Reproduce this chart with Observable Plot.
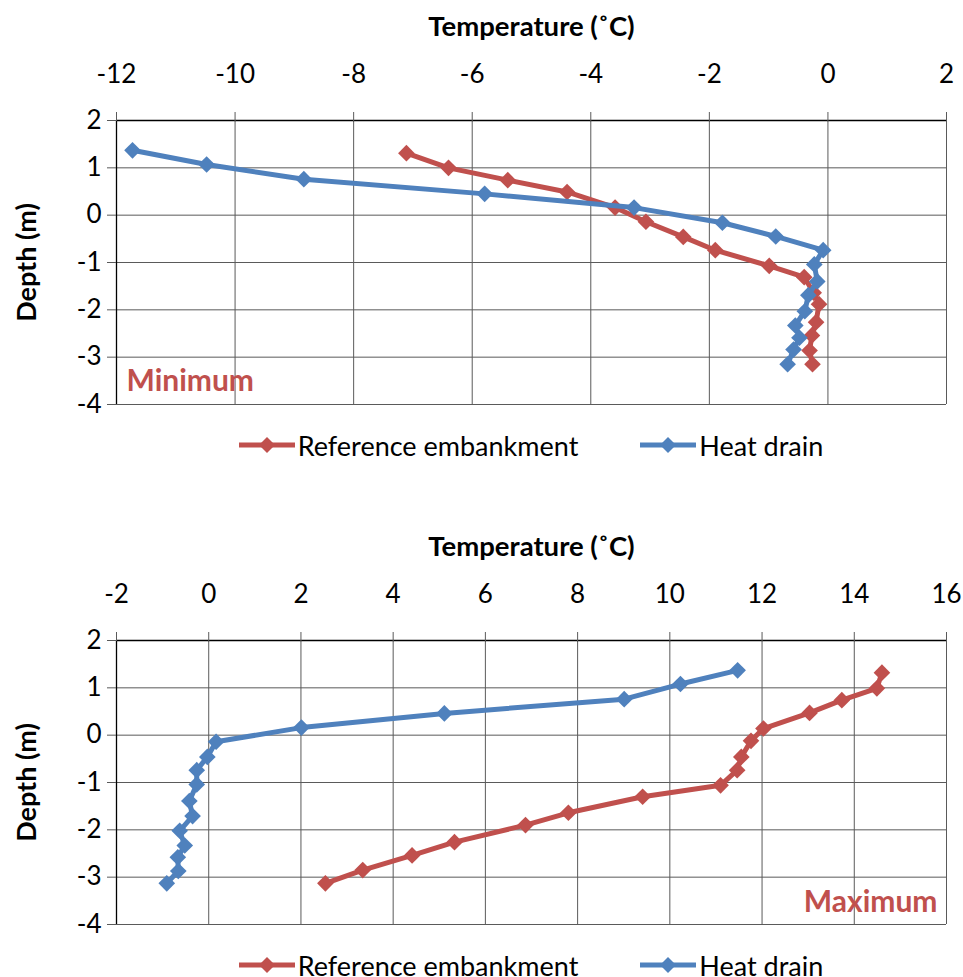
<!DOCTYPE html>
<html>
<head>
<meta charset="utf-8">
<script src="https://cdn.jsdelivr.net/npm/d3@7"></script>
<script src="https://cdn.jsdelivr.net/npm/@observablehq/plot@0.6"></script>
<style>
  body { margin: 0; background: #fff; font-family: Lato, sans-serif; }
  #page { position: relative; width: 963px; height: 977px; overflow: hidden; background: #fff; }
  .chart { position: absolute; left: 0; }
  .legend { position: absolute; left: 116px; width: 830px; height: 30px; display: flex; justify-content: center; align-items: center; gap: 62px; font-size: 27px; color: #000; white-space: nowrap; }
  .legend .item { display: flex; align-items: center; }
  .legend .item span { margin-left: 3px; }
</style>
</head>
<body>
<div id="page"></div>
<script>
// Temperature profiles under the embankment, by depth
const seriesNames = ["Reference embankment", "Heat drain"];
const seriesColors = ["#C0504D", "#4F81BD"];

// Minimum temperatures (°C)
const minDepthRef   = [1.31, 1.00, 0.74, 0.49, 0.16, -0.14, -0.46, -0.74, -1.07, -1.31, -1.64, -1.88, -2.26, -2.54, -2.86, -3.15];
const minTempRef    = [-7.11, -6.40, -5.40, -4.40, -3.59, -3.07, -2.44, -1.90, -0.99, -0.40, -0.24, -0.15, -0.20, -0.27, -0.31, -0.26];
const minDepthDrain = [1.37, 1.07, 0.76, 0.45, 0.16, -0.16, -0.45, -0.74, -1.04, -1.40, -1.69, -2.03, -2.33, -2.59, -2.84, -3.15];
const minTempDrain  = [-11.73, -10.48, -8.84, -5.79, -3.27, -1.78, -0.88, -0.08, -0.23, -0.18, -0.33, -0.39, -0.55, -0.48, -0.58, -0.68];

// Maximum temperatures (°C)
const maxDepthRef   = [1.32, 0.99, 0.74, 0.47, 0.14, -0.12, -0.46, -0.74, -1.06, -1.30, -1.64, -1.90, -2.26, -2.54, -2.85, -3.13];
const maxTempRef    = [14.60, 14.49, 13.73, 13.03, 12.03, 11.76, 11.55, 11.46, 11.10, 9.41, 7.80, 6.87, 5.33, 4.41, 3.34, 2.53];
const maxDepthDrain = [1.37, 1.08, 0.76, 0.46, 0.16, -0.14, -0.46, -0.74, -1.04, -1.39, -1.71, -2.02, -2.33, -2.58, -2.87, -3.13];
const maxTempDrain  = [11.47, 10.23, 9.01, 5.11, 2.01, 0.16, -0.03, -0.26, -0.26, -0.42, -0.35, -0.63, -0.52, -0.67, -0.66, -0.91];

// Axis ticks
const minTempTicks = [-12, -10, -8, -6, -4, -2, 0, 2];
const maxTempTicks = [-2, 0, 2, 4, 6, 8, 10, 12, 14, 16];
const depthTicks = [-4, -3, -2, -1, 0, 1, 2];

const xTitle = "Temperature (˚C)";
const yTitle = "Depth (m)";

const toRows = (temps, depths) => temps.map((t, i) => ({t, d: depths[i]}));
const fmt = d => String(d);
const gridColor = "#5a5a5a";

function profileChart({ticks, ref, drain, note, noteLeft}) {
  const domain = [ticks[0], ticks[ticks.length - 1]];
  const series = [ref, drain];
  const seriesMarks = series.flatMap((rows, i) => [
    Plot.line(rows, {x: "t", y: "d", stroke: seriesColors[i], strokeWidth: 5, strokeLinejoin: "round"}),
    Plot.dot(rows, {x: "t", y: "d", symbol: "diamond2", r: 7.5, fill: seriesColors[i], stroke: "none"})
  ]);
  const noteStyle = {fill: seriesColors[0], fontWeight: "bold", fontSize: 30, lineAnchor: "middle"};
  return Plot.plot({
    width: 963,
    height: 420,
    marginTop: 120,
    marginBottom: 16,
    marginLeft: 116,
    marginRight: 17,
    style: {fontFamily: "Lato, sans-serif", fontSize: "26px", color: "#000", background: "#fff"},
    x: {domain},
    y: {domain: [-4, 2]},
    marks: [
      Plot.gridX(ticks, {stroke: gridColor, strokeOpacity: 1}),
      Plot.gridY(depthTicks, {stroke: gridColor, strokeOpacity: 1}),
      Plot.ruleY([2], {stroke: "#000", strokeWidth: 1.3}),
      Plot.ruleX([domain[0]], {stroke: "#000", strokeWidth: 1.3}),
      Plot.axisX(ticks, {anchor: "top", tickSize: 9, tickPadding: 29, tickFormat: fmt, label: null, stroke: gridColor, fontSize: 26}),
      Plot.axisY(depthTicks, {anchor: "left", tickSize: 9, tickPadding: 6, tickFormat: fmt, label: null, stroke: gridColor, fontSize: 26}),
      Plot.text([xTitle], {frameAnchor: "top", dy: -93, lineAnchor: "middle", textAnchor: "middle", fontWeight: "bold", fontSize: 27.5}),
      Plot.text([yTitle], {frameAnchor: "left", dx: -89, rotate: -90, textAnchor: "middle", lineAnchor: "middle", fontWeight: "bold", fontSize: 27}),
      ...seriesMarks,
      Plot.text([note], noteLeft
        ? {frameAnchor: "bottom-left", dx: 10, dy: -23, textAnchor: "start", ...noteStyle}
        : {frameAnchor: "bottom-right", dx: -9, dy: -22, textAnchor: "end", ...noteStyle})
    ]
  });
}

function legend(top) {
  const div = d3.create("div").attr("class", "legend").style("top", `${top}px`);
  seriesNames.forEach((name, i) => {
    const item = div.append("div").attr("class", "item");
    const svg = item.append("svg").attr("width", 56).attr("height", 20);
    svg.append("line").attr("x1", 0).attr("x2", 56).attr("y1", 10).attr("y2", 10)
      .attr("stroke", seriesColors[i]).attr("stroke-width", 5).attr("stroke-linecap", "round");
    svg.append("path").attr("d", "M28,2L36,10L28,18L20,10Z").attr("fill", seriesColors[i]);
    item.append("span").text(name);
  });
  return div.node();
}

const page = document.getElementById("page");

const minChart = profileChart({ticks: minTempTicks, ref: toRows(minTempRef, minDepthRef), drain: toRows(minTempDrain, minDepthDrain), note: "Minimum", noteLeft: true});
minChart.classList.add("chart");
minChart.style.top = "0px";
page.appendChild(minChart);
page.appendChild(legend(430));

const maxChart = profileChart({ticks: maxTempTicks, ref: toRows(maxTempRef, maxDepthRef), drain: toRows(maxTempDrain, maxDepthDrain), note: "Maximum", noteLeft: false});
maxChart.classList.add("chart");
maxChart.style.top = "520px";
page.appendChild(maxChart);
page.appendChild(legend(950));
</script>
</body>
</html>
